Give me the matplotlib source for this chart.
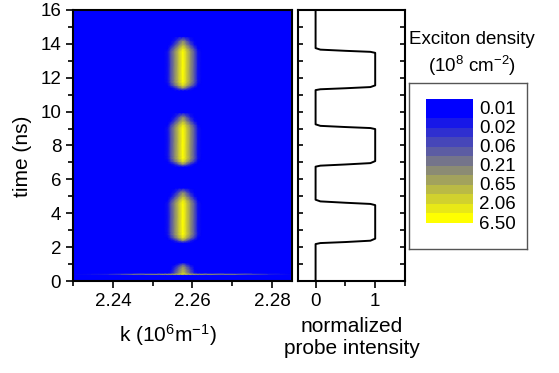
import matplotlib
matplotlib.use("Agg")
import matplotlib.pyplot as plt
from matplotlib.colors import LinearSegmentedColormap, LogNorm
from matplotlib.ticker import MultipleLocator
import numpy as np

plt.rcParams["font.family"] = ["Liberation Sans", "DejaVu Sans"]
plt.rcParams["mathtext.fontset"] = "custom"
plt.rcParams["mathtext.rm"] = "Liberation Sans"
plt.rcParams["mathtext.it"] = "Liberation Sans:italic"

# exciton density map: k grid, time grid and the profiles along each
k_nodes = [2.2300, 2.2390, 2.2450, 2.2510, 2.2528, 2.2538, 2.2546, 2.2556, 2.2566,
           2.2576, 2.2586, 2.2596, 2.2606, 2.2614, 2.2624, 2.2650, 2.2710, 2.2790,
           2.2850]
blob_prof = [0, 0, 0, 0, 0.001, 0.01, 0.06, 0.3, 1.5,
             6.5, 1.5, 0.3, 0.06, 0.01, 0.001, 0, 0, 0,
             0]
line_prof = [0, 0.02, 0.3, 0.6, 0.8, 1.0, 1.2, 1.6, 2.5,
             5.0, 2.5, 1.6, 1.2, 1.0, 0.8, 0.6, 0.3, 0.02,
             0]

t_nodes = [0.0, 0.36, 0.42, 0.48, 0.56, 0.70, 0.85, 1.00, 1.10,
           2.25, 2.40, 2.55, 2.75, 2.90, 4.60, 4.80, 5.00, 5.25, 5.50,
           6.75, 6.90, 7.05, 7.25, 7.40, 9.05, 9.25, 9.45, 9.70, 9.95,
           11.25, 11.40, 11.55, 11.75, 11.90, 13.55, 13.75, 13.95, 14.20, 14.45,
           16.0]
blob_env = [0, 0, 0.2, 0.2, 0.15, 0.1, 0.05, 0.01, 0,
            0, 0.05, 0.4, 1, 1, 1, 0.5, 0.15, 0.04, 0,
            0, 0.05, 0.4, 1, 1, 1, 0.5, 0.15, 0.04, 0,
            0, 0.05, 0.4, 1, 1, 1, 0.5, 0.15, 0.04, 0,
            0]
line_env = [0, 0, 1, 0, 0, 0, 0, 0, 0] + [0] * 31

# probe intensity trace
probe_t = [0, 2.18, 2.24, 2.30, 2.38, 2.50, 4.48, 4.55, 4.62, 4.70, 4.80,
           6.75, 6.81, 6.88, 6.96, 7.08, 8.97, 9.03, 9.09, 9.16, 9.25,
           11.27, 11.32, 11.38, 11.45, 11.55, 13.47, 13.53, 13.59, 13.66, 13.75, 16]
probe_i = [0, 0, 0.08, 0.5, 0.92, 1, 1, 0.92, 0.5, 0.08, 0,
           0, 0.08, 0.5, 0.92, 1, 1, 0.92, 0.5, 0.08, 0,
           0, 0.08, 0.5, 0.92, 1, 1, 0.92, 0.5, 0.08, 0, 0]

# legend levels
legend_labels = ["0.01", "0.02", "0.06", "0.21", "0.65", "2.06", "6.50"]
n_bands = 13

cmap = LinearSegmentedColormap.from_list(
    "exc", [(0, "#0000ff"), (1 / 12, "#0000ff"), (1, "#ffff00")])
norm = LogNorm(vmin=0.0037, vmax=6.5)

W, H = 559, 373
fig = plt.figure(figsize=(W / 100, H / 100), dpi=100)

ax = fig.add_axes([73 / W, 1 - 281 / H, 219 / W, 271 / H])
K, T = np.meshgrid(k_nodes, t_nodes)
Z = np.outer(blob_env, blob_prof) + np.outer(line_env, line_prof) + 1e-4
ax.pcolormesh(K, T, Z, shading="gouraud", cmap=cmap, norm=norm, rasterized=True)
ax.set_xlim(2.23, 2.285)
ax.set_ylim(0, 16)
ax.xaxis.set_major_locator(MultipleLocator(0.02))
ax.xaxis.set_minor_locator(MultipleLocator(0.01))
ax.yaxis.set_major_locator(MultipleLocator(2))
ax.yaxis.set_minor_locator(MultipleLocator(1))
ax.xaxis.set_major_formatter(lambda v, p: f"{v:.2f}")
ax.tick_params(which="both", direction="out", width=1.2, labelsize=13.5)
ax.tick_params(which="major", length=5)
ax.tick_params(which="minor", length=3.5)
for s in ax.spines.values():
    s.set_linewidth(1.5)

ax2 = fig.add_axes([297.7 / W, 1 - 281 / H, 107.3 / W, 271 / H])
ax2.plot(probe_i, probe_t, color="k", lw=1.4)
ax2.set_xlim(-0.3, 1.5)
ax2.set_ylim(0, 16)
ax2.xaxis.set_major_locator(MultipleLocator(1))
ax2.xaxis.set_minor_locator(MultipleLocator(0.5))
ax2.yaxis.set_major_locator(MultipleLocator(2))
ax2.yaxis.set_minor_locator(MultipleLocator(1))
ax2.tick_params(axis="x", which="both", direction="out", width=1.2, labelsize=13.5)
ax2.tick_params(axis="x", which="major", length=5)
ax2.tick_params(axis="x", which="minor", length=3.5)
ax2.tick_params(axis="y", which="both", direction="in", left=True, right=True,
                labelleft=False, length=3.5, width=1.2)
for s in ax2.spines.values():
    s.set_linewidth(1.5)

fig.text(22 / W, 1 - 156 / H, "time (ns)", rotation=90, ha="center", va="center", fontsize=15)
fig.text(168 / W, 1 - 335 / H, "k (10$^6$m$^{-1}$)", ha="center", va="center", fontsize=15)
fig.text(352 / W, 1 - 338 / H, "normalized\nprobe intensity", ha="center", va="center",
         fontsize=15, linespacing=1.2)

# legend box
bx0, by0, bw, bh = 409.3, 82.7, 117.7, 166.6
lax = fig.add_axes([bx0 / W, 1 - (by0 + bh) / H, bw / W, bh / H])
lax.set_xlim(0, bw)
lax.set_ylim(bh, 0)
lax.set_xticks([])
lax.set_yticks([])
for s in lax.spines.values():
    s.set_color("#555555")
    s.set_linewidth(1.0)
band_h = (223 - 99) / n_bands
band_top = 99 - by0
bands = np.arange(n_bands)
lax.bar(426 - bx0 + 46.7 / 2, [band_h] * n_bands, bottom=band_top + bands * band_h,
        width=46.7, color=cmap(bands / 12), linewidth=0)
for j, lab in enumerate(legend_labels):
    lax.text(479.3 - bx0, band_top + (2 * j + 1) * band_h + 1, lab,
             ha="left", va="center", fontsize=13.5)

fig.text(472 / W, 1 - 39 / H, "Exciton density", ha="center", va="center", fontsize=13.5)
fig.text(472 / W, 1 - 66 / H, "(10$^8$ cm$^{-2}$)", ha="center", va="center", fontsize=13.5)

fig.savefig("out.png", dpi=100)
